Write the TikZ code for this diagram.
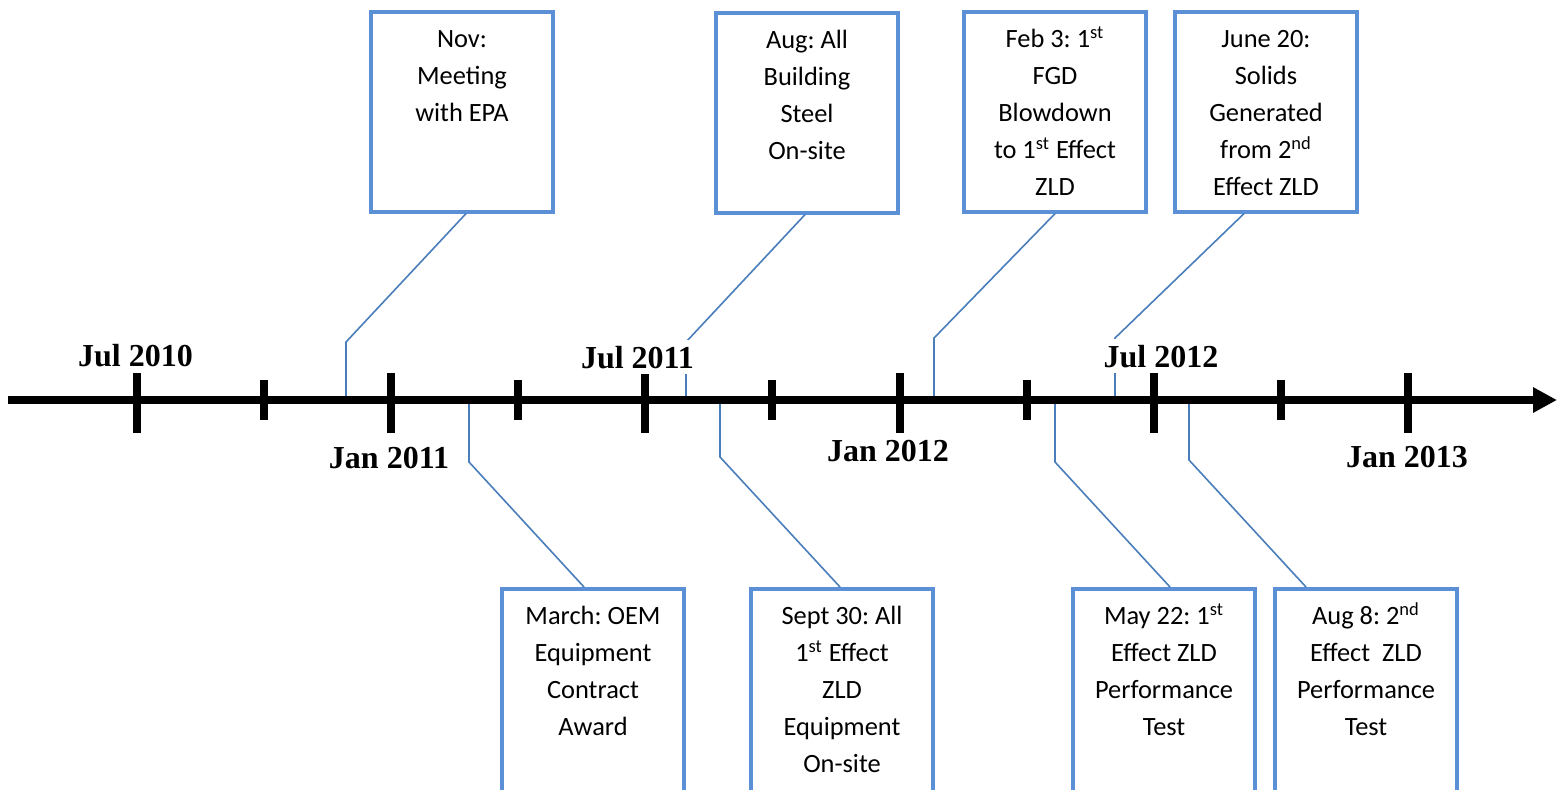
\documentclass[tikz,border=0pt]{standalone}
\usepackage{fontspec}
\setmainfont{Carlito}
\newfontfamily\datefont{Liberation Serif}
\usepackage{xcolor}
\usepackage{tikz}
\usetikzlibrary{arrows.meta}

\definecolor{boxblue}{RGB}{91,143,214}
\definecolor{lineblue}{RGB}{74,126,187}

\frenchspacing
\newcommand{\evtext}[2][100pt]{\parbox[c][#1][t]{91.2pt}{\centering\rule{0pt}{17.6pt}#2}}

\begin{document}
\begin{tikzpicture}[x=0.5pt,y=-0.5pt,
    evbox/.style={draw=boxblue, line width=1.8pt, fill=white, inner sep=0pt, anchor=north west,
      font=\fontsize{13.2pt}{18.6pt}\selectfont},
    conn/.style={draw=lineblue, line width=0.8pt},
    axisline/.style={line width=4pt, -{Triangle[length=12pt,width=12pt]}},
    tickmark/.style={line width=4pt},
    datelbl/.style={fill=white, inner xsep=1pt, inner ysep=3pt, anchor=base,
      font=\datefont\bfseries\fontsize{16pt}{18pt}\selectfont}]
      \useasboundingbox (0,0) rectangle (1562,789);
      \clip (0,0) rectangle (1562,789);
      % events above the axis
      \node[evbox] (N) at (369,10) {\evtext{Nov:\\Meeting\\with EPA}};
      \node[evbox] (A) at (714,11) {\evtext{Aug: All\\Building\\Steel\\On-site}};
      \node[evbox] (F) at (962,10) {\evtext{Feb 3: 1\textsuperscript{st}\\FGD\\Blowdown\\to 1\textsuperscript{st} Effect\\ZLD}};
      \node[evbox] (J) at (1173,10) {\evtext{June 20:\\Solids\\Generated\\from 2\textsuperscript{nd}\\Effect ZLD}};
      % events below the axis
      \node[evbox] (M) at (500,587) {\evtext[110pt]{March: OEM\\Equipment\\Contract\\Award}};
      \node[evbox] (S) at (749,587) {\evtext[110pt]{Sept 30: All\\1\textsuperscript{st} Effect\\ZLD\\Equipment\\On-site}};
      \node[evbox] (Y) at (1071,587) {\evtext[110pt]{May 22: 1\textsuperscript{st}\\Effect ZLD\\Performance\\Test}};
      \node[evbox] (G) at (1273,587) {\evtext[110pt]{Aug 8: 2\textsuperscript{nd}\\Effect\ \ ZLD\\Performance\\Test}};

      \coordinate (nb) at (346,342);  \coordinate (na) at (346,400);
      \coordinate (ab) at (686,342);  \coordinate (aa) at (686,400);
      \coordinate (fb) at (934,338);  \coordinate (fa) at (934,400);
      \coordinate (jb) at (1115,338); \coordinate (ja) at (1115,400);
      \coordinate (mb) at (469,462);  \coordinate (ma) at (469,400);
      \coordinate (sb) at (720,457);  \coordinate (sa) at (720,400);
      \coordinate (yb) at (1055,462); \coordinate (ya) at (1055,400);
      \coordinate (gb) at (1189,460); \coordinate (ga) at (1189,400);
      \draw[conn] ([xshift=2pt]N.south) -- (nb) -- (na);
      \draw[conn] ([xshift=-1pt]A.south) -- (ab) -- (aa);
      \draw[conn] (F.south) -- (fb) -- (fa);
      \draw[conn] ([xshift=-11pt]J.south) -- (jb) -- (ja);
      \draw[conn] ([xshift=-4.5pt]M.north) -- (mb) -- (ma);
      \draw[conn] ([xshift=-1pt]S.north) -- (sb) -- (sa);
      \draw[conn] ([xshift=3pt]Y.north) -- (yb) -- (ya);
      \draw[conn] ([xshift=-30pt]G.north) -- (gb) -- (ga);

      % time axis
      \coordinate (start) at (8,400);
      \coordinate (end) at (1557,400);
      \draw[axisline] (start) -- (end);
      \foreach \i in {0,...,5}
        \draw[tickmark] (137+254.2*\i,373) -- ++(0,60);
      \foreach \i in {0,...,4}
        \draw[tickmark] (264+254.2*\i,380) -- ++(0,40);

      \node[datelbl] (jul10) at (135.5,366) {Jul 2010};
      \node[datelbl] (jan11) at (389,468) {Jan 2011};
      \node[datelbl] (jul11) at (637.5,368) {Jul 2011};
      \node[datelbl] (jan12) at (888,461) {Jan 2012};
      \node[datelbl] (jul12) at (1161,367) {Jul 2012};
      \node[datelbl] (jan13) at (1407,467) {Jan 2013};
    \end{tikzpicture}
\end{document}
